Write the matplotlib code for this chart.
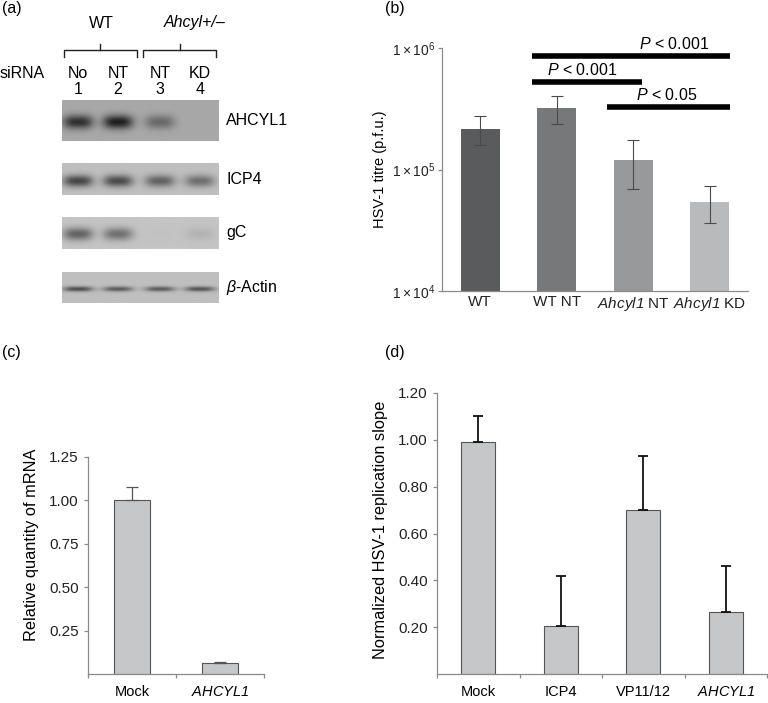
import numpy as np
import matplotlib
matplotlib.use("Agg")
import matplotlib.pyplot as plt

plt.rcParams['font.family'] = ['Liberation Sans', 'DejaVu Sans']
plt.rcParams['mathtext.fontset'] = 'custom'
# rm is italic so that digits inside $\mathrm{..}$ come out slanted too
plt.rcParams['mathtext.rm'] = 'Liberation Sans:italic'
plt.rcParams['mathtext.it'] = 'Liberation Sans:italic'
plt.rcParams['mathtext.sf'] = 'Liberation Sans'
plt.rcParams['font.size'] = 10.5

W, H = 768, 703

# (a) western blot band strengths, lanes 1-4
blot_names = ["AHCYL1", "ICP4", "gC", r"$\mathrm{\beta}$-Actin"]
lane_siRNA = ["No", "NT", "NT", "KD"]
lane_num = ["1", "2", "3", "4"]
band_strength = [
    [0.85, 0.97, 0.45, 0.0],
    [0.75, 0.72, 0.58, 0.50],
    [0.58, 0.50, 0.02, 0.10],
    [0.70, 0.62, 0.62, 0.66],
]
blot_bg = [0.66, 0.75, 0.77, 0.75]

# (b) HSV-1 titre
b_labels = ["WT", "WT NT", r"$\mathrm{Ahcyl1}$ NT", r"$\mathrm{Ahcyl1}$ KD"]
b_titre = [2.15e5, 3.2e5, 1.2e5, 5.4e4]
b_err_hi = [2.75e5, 4.0e5, 1.75e5, 7.3e4]
b_err_lo = [1.58e5, 2.35e5, 6.9e4, 3.6e4]
b_colors = ["#5a5b5d", "#77787a", "#98999b", "#b9babc"]
# comparisons: x from, x to, y, p value, label x
b_sig = [(1.18, 3.76, 8.6e5, "0.001", 3.03),
         (1.18, 2.61, 5.3e5, "0.001", 1.83),
         (2.16, 3.76, 3.3e5, "0.05", 2.94)]

# (c) mRNA
c_labels = ["Mock", r"$\mathrm{AHCYL1}$"]
c_vals = [1.0, 0.065]
c_err = [0.075, 0.003]

# (d) replication slope
d_labels = ["Mock", "ICP4", "VP11/12", r"$\mathrm{AHCYL1}$"]
d_vals = [0.99, 0.205, 0.70, 0.266]
d_err = [0.11, 0.215, 0.229, 0.196]


def px(x0, y0, x1, y1):
    return [x0 / W, 1 - y1 / H, (x1 - x0) / W, (y1 - y0) / H]


fig = plt.figure(figsize=(W / 100, H / 100), dpi=100)

# ---------- panel a ----------
axa = fig.add_axes(px(0, 0, 380, 320))

blot_y = [(100, 141), (163, 195), (217, 249), (272, 303)]
band_yc = [122, 181, 234, 289]
band_h = [7.0, 6.0, 6.5, 2.6]
lane_x = [78, 118, 160, 200]
gx0, gx1 = 62, 219
for k, (y0, y1) in enumerate(blot_y):
    xs = np.linspace(gx0, gx1, 300)
    ys = np.linspace(y0, y1, 80)
    X, Y = np.meshgrid(xs, ys)
    img = np.full(X.shape, blot_bg[k])
    for j, lx in enumerate(lane_x):
        s = band_strength[k][j]
        band = np.exp(-np.abs((X - lx) / 15.0) ** 3 - ((Y - band_yc[k]) / band_h[k]) ** 2)
        img = img - s * blot_bg[k] * 0.85 * band
    axa.imshow(img, cmap='gray', vmin=0, vmax=1, extent=(gx0, gx1, y1, y0),
               aspect='auto', interpolation='bilinear')
    axa.text(226, (y0 + y1) / 2, blot_names[k], ha='left', va='center', fontsize=11.5)

axa.set_xlim(0, 380)
axa.set_ylim(320, 0)
axa.axis('off')

axa.text(0, 73, "siRNA", ha='left', va='center', fontsize=11.5)
for j, lx in enumerate(lane_x):
    axa.text(lx, 73, lane_siRNA[j], ha='center', va='center', fontsize=11.5)
    axa.text(lx, 90, lane_num[j], ha='center', va='center', fontsize=11.5)

for (bx0, bx1, tx) in [(64, 137, 100), (143, 216, 180)]:
    axa.plot([bx0, bx0, bx1, bx1], [57, 50, 50, 57], color='#222222', lw=1.0)
    axa.plot([tx, tx], [50, 44], color='#222222', lw=1.0)
axa.text(101, 23, "WT", ha='center', va='center', fontsize=11.5)
axa.text(195, 23, "Ahcyl+/–", ha='center', va='center', fontsize=11.5, style='italic')
axa.text(2, 8, "(a)", ha='left', va='center', fontsize=11.5)

gray = '#8a8a8a'


def style_axes(ax):
    for s in ['top', 'right']:
        ax.spines[s].set_visible(False)
    for s in ['left', 'bottom']:
        ax.spines[s].set_color(gray)
        ax.spines[s].set_linewidth(0.9)
    ax.tick_params(colors=gray, labelcolor='#222222', labelsize=11, width=0.9, length=3)


# ---------- panel b ----------
axb = fig.add_axes(px(442, 48, 748, 291))
xb = np.arange(len(b_titre)) + 0.5
lo = np.array(b_titre) - np.array(b_err_lo)
hi = np.array(b_err_hi) - np.array(b_titre)
axb.bar(xb, b_titre, width=0.51, color=b_colors, bottom=1e-9)
axb.errorbar(xb, b_titre, yerr=[lo, hi], fmt='none', ecolor='#4a4a4a', elinewidth=0.8,
             capsize=4, capthick=0.8)
axb.set_yscale('log')
axb.set_ylim(1e4, 1e6)
axb.set_xlim(0, 4)
axb.set_yticks([1e4, 1e5, 1e6])
axb.set_yticklabels([r"$\mathsf{1\times10^{4}}$", r"$\mathsf{1\times10^{5}}$",
                     r"$\mathsf{1\times10^{6}}$"])
axb.minorticks_off()
axb.set_xticks(xb)
axb.set_xticklabels(b_labels)
style_axes(axb)
axb.tick_params(axis='y', labelsize=10, pad=2)
axb.tick_params(axis='x', length=0, pad=3, labelsize=11)
axb.set_ylabel("HSV-1 titre (p.f.u.)", fontsize=10.5)
axb.yaxis.set_label_coords(-0.18, 0.5)
for (x0, x1, yv, p, tx) in b_sig:
    axb.plot([x0, x1], [yv, yv], color='black', lw=4, solid_capstyle='butt', clip_on=False)
    axb.text(tx, yv * 1.07, r"$\mathrm{P}$ < " + p, ha='center', va='bottom', fontsize=11.5,
             clip_on=False)
fig.text(385 / W, 1 - 8 / H, "(b)", ha='left', va='center', fontsize=11.5)

# ---------- panel c ----------
axc = fig.add_axes(px(88, 457, 264, 674))
xc = np.arange(len(c_vals)) + 0.5
axc.bar(xc, c_vals, width=0.41, color='#c6c7c9', edgecolor='#555555', linewidth=0.8)
axc.errorbar(xc, c_vals, yerr=[np.zeros(len(c_err)), c_err], fmt='none', ecolor='#555555',
             elinewidth=0.9, capsize=4, capthick=0.9)
axc.set_xlim(0, 2)
axc.set_ylim(0, 1.25)
axc.set_yticks([0.25, 0.5, 0.75, 1.0, 1.25])
axc.set_yticklabels(["0.25", "0.50", "0.75", "1.00", "1.25"])
axc.set_xticks([0, 1, 2])
axc.set_xticklabels([])
axc.set_xticks(xc, minor=True)
axc.set_xticklabels(c_labels, minor=True)
style_axes(axc)
axc.tick_params(axis='x', which='minor', length=0, pad=8)
axc.set_ylabel("Relative quantity of mRNA", fontsize=11.8)
axc.yaxis.set_label_coords(-0.278, 0.594)
fig.text(2 / W, 1 - 353 / H, "(c)", ha='left', va='center', fontsize=11.5)

# ---------- panel d ----------
axd = fig.add_axes(px(437, 393, 767, 674))
xd = np.arange(len(d_vals)) + 0.5
axd.bar(xd, d_vals, width=0.41, color='#c6c7c9', edgecolor='#555555', linewidth=0.8)
axd.errorbar(xd, d_vals, yerr=[np.zeros(len(d_err)), d_err], fmt='none', ecolor='#111111',
             elinewidth=1.3, capsize=3.5, capthick=1.3)
axd.set_xlim(0, 4)
axd.set_ylim(0, 1.2)
axd.set_yticks([0.2, 0.4, 0.6, 0.8, 1.0, 1.2])
axd.set_yticklabels(["0.20", "0.40", "0.60", "0.80", "1.00", "1.20"])
axd.set_xticks([0, 1, 2, 3, 4])
axd.set_xticklabels([])
axd.set_xticks(xd, minor=True)
axd.set_xticklabels(d_labels, minor=True)
style_axes(axd)
axd.tick_params(axis='x', which='minor', length=0, pad=8)
axd.set_ylabel("Normalized HSV-1 replication slope", fontsize=11.8)
axd.yaxis.set_label_coords(-0.15, 0.512)
fig.text(385 / W, 1 - 353 / H, "(d)", ha='left', va='center', fontsize=11.5)

fig.savefig("out.png", dpi=100)
